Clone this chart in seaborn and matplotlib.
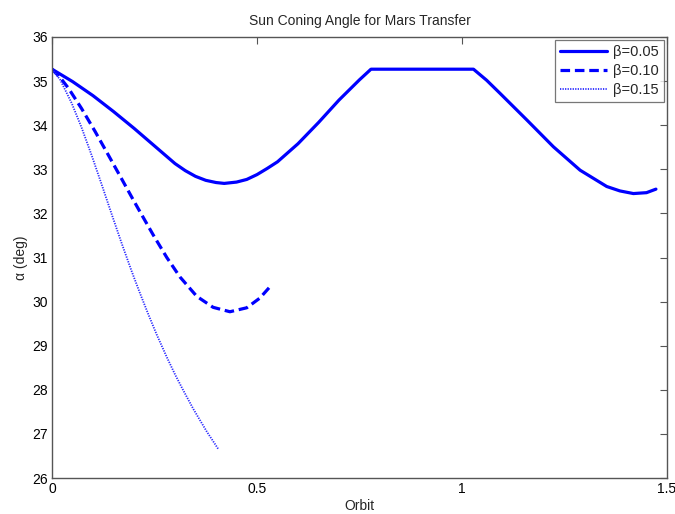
import matplotlib
matplotlib.use("Agg")
import matplotlib.pyplot as plt
import seaborn as sns
import pandas as pd

# beta = 0.05
x_b05 = [0.0, 0.05, 0.10, 0.15, 0.20, 0.25, 0.30, 0.325, 0.35, 0.375, 0.40, 0.42, 0.45,
         0.475, 0.50, 0.525, 0.55, 0.60, 0.65, 0.70, 0.75, 0.778,
         1.028, 1.060, 1.093, 1.158, 1.223, 1.288, 1.353, 1.385, 1.418, 1.450, 1.473]
y_b05 = [35.27, 34.99, 34.67, 34.31, 33.93, 33.53, 33.13, 32.97, 32.84, 32.75, 32.70, 32.68, 32.71,
         32.77, 32.88, 33.02, 33.17, 33.58, 34.06, 34.57, 35.03, 35.27,
         35.27, 35.02, 34.72, 34.12, 33.51, 32.98, 32.61, 32.51, 32.45, 32.47, 32.55]
# beta = 0.10
x_b10 = [0.0, 0.02, 0.04, 0.072, 0.105, 0.137, 0.170, 0.198, 0.215, 0.247, 0.280,
         0.312, 0.353, 0.393, 0.434, 0.475, 0.507, 0.530]
y_b10 = [35.27, 35.08, 34.84, 34.38, 33.86, 33.33, 32.78, 32.31, 32.03, 31.51, 31.00,
         30.56, 30.12, 29.87, 29.77, 29.86, 30.08, 30.32]
# beta = 0.15
x_b15 = [0.0, 0.02, 0.048, 0.072, 0.097, 0.121, 0.146, 0.170, 0.195, 0.215, 0.235,
         0.255, 0.280, 0.300, 0.320, 0.345, 0.377, 0.406]
y_b15 = [35.27, 35.03, 34.50, 33.95, 33.31, 32.66, 31.97, 31.32, 30.67, 30.18, 29.71,
         29.26, 28.74, 28.35, 27.99, 27.56, 27.06, 26.65]

labels = ["\u03b2=0.05", "\u03b2=0.10", "\u03b2=0.15"]
title = "Sun Coning Angle for Mars Transfer"
xlabel = "Orbit"
ylabel = "\u03b1 (deg)"
xticks = [0, 0.5, 1, 1.5]
xticklabels = ["0", "0.5", "1", "1.5"]
yticks = list(range(26, 37))

sns.set_theme(style="white")
plt.rcParams["font.family"] = ["Liberation Sans", "DejaVu Sans"]

fig = plt.figure(figsize=(6.75, 5.14), dpi=100)
ax = fig.add_axes([52 / 675, 1 - 478 / 514, (667 - 52) / 675, (478 - 37) / 514])

series = [
    (x_b05, y_b05, labels[0], "-", 2.3, "#0000ff"),
    (x_b10, y_b10, labels[1], (0, (3.0, 1.5)), 2.3, "#0000ff"),
    (x_b15, y_b15, labels[2], (0, (0.7, 0.7)), 1.3, "#2a2aff"),
]
for xs, ys, lab, ls, lw, col in series:
    df = pd.DataFrame({"x": xs, "y": ys})
    sns.lineplot(data=df, x="x", y="y", ax=ax, color=col, linewidth=lw,
                 linestyle=ls, label=lab, sort=False, estimator=None,
                 solid_joinstyle="round", dash_joinstyle="round")

ax.set_xlim(0, 1.5)
ax.set_ylim(26, 36)
ax.set_xticks(xticks)
ax.set_xticklabels(xticklabels)
ax.set_yticks(yticks)
ax.tick_params(direction="in", length=5, width=0.8, color="#555555",
               labelsize=10, top=True, right=True, pad=3, labelcolor="black")
for s in ax.spines.values():
    s.set_color("#555555")
    s.set_linewidth(1.0)
ax.set_title(title, fontsize=10, pad=9)
ax.set_xlabel(xlabel, fontsize=10, labelpad=2)
ax.set_ylabel(ylabel, fontsize=10, labelpad=3)

leg = ax.legend(loc="upper right", fontsize=10.5, frameon=True, fancybox=False,
                edgecolor="#555555", borderpad=0.35, handlelength=3.2,
                labelspacing=0.35, handletextpad=0.45, borderaxespad=0.2)
leg.get_frame().set_linewidth(0.9)

fig.savefig("out.png", dpi=100, facecolor="white")
